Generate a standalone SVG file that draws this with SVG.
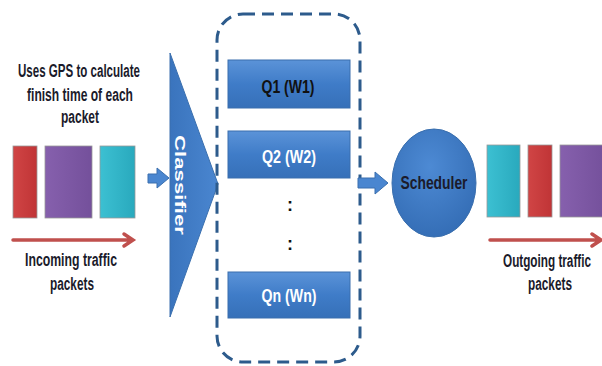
<svg xmlns="http://www.w3.org/2000/svg" width="602" height="366" viewBox="0 0 602 366">
<defs>
<linearGradient id="gBlue" x1="0" y1="0" x2="0" y2="1">
<stop offset="0" stop-color="#5b93d8"/><stop offset="0.5" stop-color="#3f7cc8"/><stop offset="1" stop-color="#3670b8"/>
</linearGradient>
<linearGradient id="gTri" x1="0" y1="0" x2="1" y2="0">
<stop offset="0" stop-color="#3a74bd"/><stop offset="1" stop-color="#4a86d0"/>
</linearGradient>
<radialGradient id="gCirc" cx="0.45" cy="0.35" r="0.7">
<stop offset="0" stop-color="#4d8ad4"/><stop offset="1" stop-color="#336cb4"/>
</radialGradient>
<linearGradient id="gRed" x1="0" y1="0" x2="1" y2="0"><stop offset="0" stop-color="#d04545"/><stop offset="1" stop-color="#c03436"/></linearGradient>
<linearGradient id="gPur" x1="0" y1="0" x2="1" y2="0"><stop offset="0" stop-color="#8660ad"/><stop offset="1" stop-color="#74509b"/></linearGradient>
<linearGradient id="gTeal" x1="0" y1="0" x2="1" y2="0"><stop offset="0" stop-color="#3cc0d2"/><stop offset="1" stop-color="#29a9bd"/></linearGradient>
<style>
.lbl{font-family:"Liberation Sans",Arial,sans-serif;font-weight:bold;font-size:18px;fill:#1b1b2b;text-anchor:middle}
.q{font-family:"Liberation Sans",Arial,sans-serif;font-weight:bold;font-size:18px;text-anchor:middle}
.box{fill:url(#gBlue);stroke:#3a6fae;stroke-width:1}
.pkt{stroke:#999;stroke-width:0.8}
.redarrow{fill:none;stroke:#c0504d;stroke-width:3.5;stroke-linecap:round}
.blk{fill:#4a86d0;stroke:#3a6fae;stroke-width:1}
</style>
</defs>

<g id="note">
<text class="lbl" x="79" y="77" textLength="122" lengthAdjust="spacingAndGlyphs">Uses GPS to calculate</text>
<text class="lbl" x="80" y="101" textLength="106" lengthAdjust="spacingAndGlyphs">finish time of each</text>
<text class="lbl" x="80" y="123" textLength="38" lengthAdjust="spacingAndGlyphs">packet</text>
</g>

<g id="incoming-packets">
<rect class="pkt" x="13" y="146" width="24" height="72" fill="url(#gRed)"/>
<rect class="pkt" x="45" y="146" width="47" height="72" fill="url(#gPur)"/>
<rect class="pkt" x="100" y="146" width="35" height="72" fill="url(#gTeal)"/>
</g>

<g id="incoming-label">
<text class="lbl" x="71" y="266" textLength="92" lengthAdjust="spacingAndGlyphs">Incoming traffic</text>
<text class="lbl" x="72" y="290" textLength="44" lengthAdjust="spacingAndGlyphs">packets</text>
</g>

<g id="classifier">
<polygon points="170,53 218,184 170,317" fill="url(#gTri)" stroke="#3a6fae" stroke-width="1"/>
<text transform="translate(175,185) rotate(90)" x="0" y="0" font-family="'Liberation Sans',Arial,sans-serif" font-weight="bold" font-size="15" fill="#ffffff" text-anchor="middle" textLength="100" lengthAdjust="spacingAndGlyphs">Classifier</text>
</g>

<g id="queues">
<rect x="217" y="14" width="143" height="348" rx="26" fill="none" stroke="#2d5b8c" stroke-width="3" stroke-dasharray="12 7"/>
<g id="q1"><rect class="box" x="228" y="60" width="122" height="48"/><text class="q" x="288" y="93" fill="#111" textLength="53" lengthAdjust="spacingAndGlyphs">Q1 (W1)</text></g>
<g id="q2"><rect class="box" x="228" y="131" width="122" height="47"/><text class="q" x="289" y="163" fill="#ffffff" textLength="54" lengthAdjust="spacingAndGlyphs">Q2 (W2)</text></g>
<g id="dots"><text class="q" x="290" y="211" fill="#111" font-size="20">:</text><text class="q" x="290" y="250" fill="#111" font-size="20">:</text></g>
<g id="qn"><rect class="box" x="228" y="272" width="122" height="46"/><text class="q" x="289" y="302" fill="#ffffff" textLength="55" lengthAdjust="spacingAndGlyphs">Qn (Wn)</text></g>
</g>

<g id="scheduler">
<ellipse cx="434" cy="183" rx="42" ry="54" fill="url(#gCirc)" stroke="#3a6fae" stroke-width="1"/>
<text class="lbl" x="434" y="189" textLength="67" lengthAdjust="spacingAndGlyphs">Scheduler</text>
</g>

<g id="outgoing-packets">
<rect class="pkt" x="487" y="145" width="33" height="72" fill="url(#gTeal)"/>
<rect class="pkt" x="528" y="145" width="24" height="72" fill="url(#gRed)"/>
<rect class="pkt" x="560" y="145" width="46" height="72" fill="url(#gPur)"/>
</g>

<g id="outgoing-label">
<text class="lbl" x="547" y="267" textLength="88" lengthAdjust="spacingAndGlyphs">Outgoing traffic</text>
<text class="lbl" x="550" y="290" textLength="44" lengthAdjust="spacingAndGlyphs">packets</text>
</g>

<g id="connectors">
<path class="redarrow" d="M13,240 H132 M124,234 L133,240 L124,246"/>
<path class="redarrow" d="M490,240 H600 M592,234 L601,240 L592,246"/>
<polygon class="blk" points="148,174 157,174 157,168 169,178 157,188 157,183 148,183"/>
<polygon class="blk" points="358,178 375,178 375,172 388,183 375,194 375,188 358,188"/>
</g>
</svg>
